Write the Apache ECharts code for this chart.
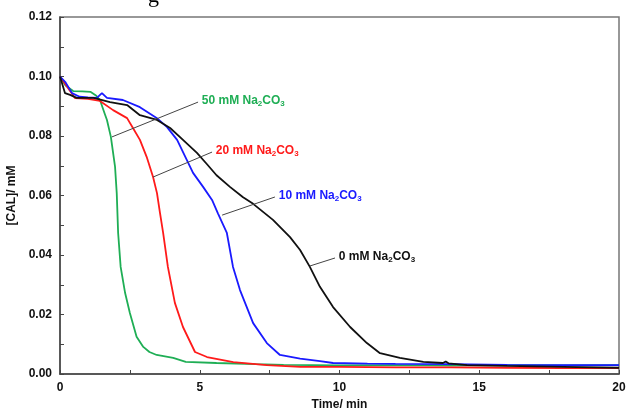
<!DOCTYPE html>
<html>
<head>
<meta charset="utf-8">
<script src="https://cdn.jsdelivr.net/npm/echarts@6/dist/echarts.min.js"></script>
<style>
  html, body { margin: 0; padding: 0; background: #fff; }
  #chart { width: 626px; height: 411px; }
</style>
</head>
<body>
<div id="chart"></div>
<script>
// time (min), [CAL] (mM)
const na50 = [[0,0.100],[0.2,0.097],[0.47,0.0951],[0.8,0.0950],[1.1,0.0948],[1.3,0.0935],[1.43,0.0921],[1.6,0.0875],[1.68,0.0854],[1.82,0.0797],[1.97,0.0696],[2.03,0.0608],[2.08,0.0474],[2.17,0.036],[2.33,0.0272],[2.5,0.0205],[2.74,0.0125],[2.98,0.0091],[3.2,0.0074],[3.46,0.0064],[4.05,0.0054],[4.5,0.0041],[5.6,0.0037],[7,0.0033],[8,0.0031],[10,0.0029],[12,0.003],[14,0.0028],[16,0.003],[18,0.0029],[20,0.003]];
const na20 = [[0,0.100],[0.36,0.0951],[0.54,0.0927],[1.0,0.0925],[1.43,0.0918],[1.9,0.0887],[2.4,0.086],[2.61,0.0827],[2.86,0.0787],[3.1,0.073],[3.33,0.0662],[3.47,0.0608],[3.58,0.054],[3.69,0.0474],[3.86,0.036],[4.11,0.0239],[4.4,0.0158],[4.83,0.0074],[5.26,0.0057],[6.2,0.004],[7.4,0.003],[8.6,0.0024],[10,0.0024],[12,0.0022],[14,0.0022],[16,0.0021],[18,0.002],[20,0.002]];
const na10 = [[0,0.100],[0.2,0.098],[0.43,0.0944],[0.7,0.0932],[1.0,0.093],[1.32,0.0928],[1.5,0.0944],[1.68,0.0928],[2.25,0.0921],[2.86,0.0897],[3.47,0.086],[3.83,0.083],[4.19,0.0787],[4.54,0.0719],[4.76,0.0676],[5.12,0.0629],[5.44,0.0585],[5.65,0.054],[5.97,0.0474],[6.19,0.036],[6.44,0.0282],[6.91,0.0171],[7.4,0.0104],[7.87,0.0064],[8.59,0.0052],[9.3,0.0043],[9.77,0.0037],[11,0.0035],[12,0.0034],[14,0.0033],[16,0.0031],[18,0.003],[20,0.003]];
const na0 = [[0,0.100],[0.18,0.0944],[0.36,0.0938],[0.6,0.0928],[1.2,0.0928],[1.79,0.0914],[2.4,0.0904],[2.86,0.087],[3.47,0.0854],[3.94,0.0827],[4.4,0.0787],[4.9,0.0743],[5.26,0.0705],[5.6,0.0668],[6.08,0.0629],[6.55,0.0594],[6.91,0.0572],[7.62,0.0518],[8.23,0.046],[8.59,0.0417],[8.94,0.036],[9.3,0.0293],[9.77,0.0225],[10.38,0.0158],[10.98,0.0104],[11.45,0.007],[12.16,0.0054],[13,0.0041],[13.7,0.0037],[13.8,0.0042],[13.9,0.0036],[14.56,0.003],[16,0.0027],[18,0.0024],[20,0.0021]];

const seriesNames = ['50 mM', '20 mM', '10 mM', '0 mM'];
const seriesColors = ['#1fae55', '#ff1a1a', '#1a1aff', '#111111'];
// leader line ends [start, end] in data units
const leaders = [
  [[1.86, 0.0797], [4.94, 0.0914]],
  [[3.33, 0.0662], [5.44, 0.0746]],
  [[5.80, 0.0534], [7.69, 0.0595]],
  [[8.94, 0.0363], [9.84, 0.0390]]
];

const makeSeries = (data, i) => ({
  name: seriesNames[i],
  type: 'line',
  data: data,
  showSymbol: false,
  lineStyle: { color: seriesColors[i], width: 1.8 },
  itemStyle: { color: seriesColors[i] },
  markLine: {
    silent: true,
    symbol: ['none', 'none'],
    animation: false,
    lineStyle: { color: '#444', width: 1, type: 'solid' },
    label: {
      show: true,
      position: 'end',
      distance: 4,
      formatter: seriesNames[i] + ' Na{s|2}CO{s|3}',
      color: seriesColors[i],
      fontFamily: 'Liberation Sans',
      fontWeight: 'bold',
      fontSize: 12,
      rich: {
        s: { fontSize: 8, fontWeight: 'bold', fontFamily: 'Liberation Sans', color: seriesColors[i], padding: [6, 0, 0, 0] }
      }
    },
    data: [[{ coord: leaders[i][0] }, { coord: leaders[i][1] }]]
  }
});

const chart = echarts.init(document.getElementById('chart'));
chart.setOption({
  animation: false,
  grid: { left: 60, right: 7, top: 17, bottom: 37, show: true, borderColor: '#777', borderWidth: 1.5,
    containLabel: false, outerBoundsMode: 'none' },
  graphic: [{ type: 'text', left: 148, top: -15, style: { text: 'g', font: '22px "Liberation Serif"', fill: '#000' } }],
  xAxis: {
    type: 'value', min: 0, max: 20, interval: 5,
    name: 'Time/ min', nameLocation: 'middle', nameGap: 22,
    nameTextStyle: { fontFamily: 'Liberation Sans', fontWeight: 'bold', fontSize: 12, color: '#111' },
    axisLine: { lineStyle: { color: '#444', width: 1.5 } },
    axisTick: { inside: true, length: 4, lineStyle: { color: '#444' } },
    minorTick: { show: true, splitNumber: 2, length: 4, lineStyle: { color: '#444' } },
    splitLine: { show: false },
    axisLabel: { fontFamily: 'Liberation Sans', fontWeight: 'bold', fontSize: 12, color: '#111', margin: 8 }
  },
  yAxis: {
    type: 'value', min: 0, max: 0.12, interval: 0.02,
    name: '[CAL]/ mM', nameLocation: 'middle', nameGap: 38,
    nameTextStyle: { fontFamily: 'Liberation Sans', fontWeight: 'bold', fontSize: 12, color: '#111' },
    axisLine: { show: true, lineStyle: { color: '#444', width: 1.5 } },
    axisTick: { show: true, inside: true, length: 4, lineStyle: { color: '#444' } },
    minorTick: { show: true, splitNumber: 2, length: 4, lineStyle: { color: '#444' } },
    splitLine: { show: false },
    axisLabel: { fontFamily: 'Liberation Sans', fontWeight: 'bold', fontSize: 12, color: '#111', margin: 8,
      formatter: v => v.toFixed(2) }
  },
  series: [na50, na20, na10, na0].map(makeSeries)
});
</script>
</body>
</html>
